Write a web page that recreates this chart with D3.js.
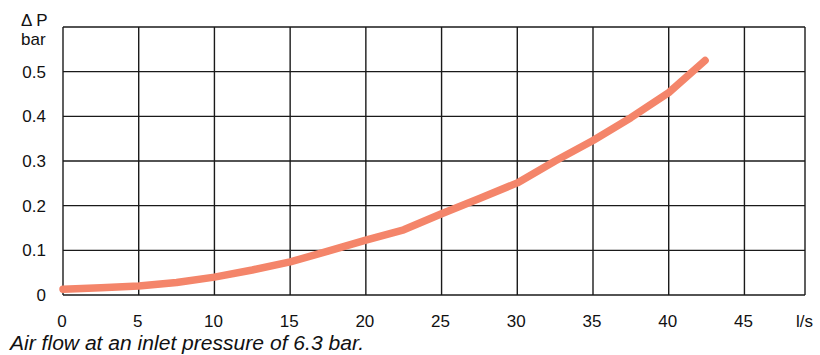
<!DOCTYPE html>
<html>
<head>
<meta charset="utf-8">
<script src="https://cdn.jsdelivr.net/npm/d3@7"></script>
<style>
  html, body { margin: 0; padding: 0; background: #fff; }
  svg { display: block; }
  text { font-family: "Liberation Sans", Arial, sans-serif; fill: #111; }
</style>
</head>
<body>
<svg id="chart" width="820" height="355"></svg>
<script>
// Data
const flow = [0, 2.5, 5, 7.5, 10, 12.5, 15, 17.5, 20, 22.5, 25, 27.5, 30, 32.5, 35, 37.5, 40, 42.4];
const deltaP = [0.013, 0.016, 0.020, 0.028, 0.040, 0.056, 0.074, 0.098, 0.123, 0.146, 0.182, 0.216, 0.251, 0.300, 0.346, 0.397, 0.453, 0.525];
const xTicks = [0, 5, 10, 15, 20, 25, 30, 35, 40, 45];
const yTicks = [0, 0.1, 0.2, 0.3, 0.4, 0.5];
const yLabels = ["0", "0.1", "0.2", "0.3", "0.4", "0.5"];
const xUnit = "l/s";
const yTitle = ["\u0394 P", "bar"];
const caption = "Air flow at an inlet pressure of 6.3 bar.";

const svg = d3.select("#chart");
const pL = 63, pR = 805, pT = 27, pB = 295;
const x = d3.scaleLinear().domain([0, 49]).range([pL, pR]);
const y = d3.scaleLinear().domain([0, 0.6]).range([pB, pT]);

const grid = svg.append("g");
grid.selectAll("line.v").data(xTicks).join("line")
  .attr("x1", d => x(d)).attr("x2", d => x(d))
  .attr("y1", pT).attr("y2", pB)
  .attr("stroke", "#1a1a1a").attr("stroke-width", 1.4);
grid.selectAll("line.h").data(yTicks.concat([0.6])).join("line")
  .attr("x1", pL).attr("x2", pR)
  .attr("y1", d => y(d)).attr("y2", d => y(d))
  .attr("stroke", "#1a1a1a").attr("stroke-width", 1.4);
grid.append("line")
  .attr("x1", pR).attr("x2", pR).attr("y1", pT).attr("y2", pB)
  .attr("stroke", "#1a1a1a").attr("stroke-width", 1.4);

svg.append("g").selectAll("text").data(yTicks).join("text")
  .attr("x", 46).attr("y", d => y(d)).attr("dy", "0.36em")
  .attr("text-anchor", "end").attr("font-size", 17)
  .text((d, i) => yLabels[i]);

svg.append("g").selectAll("text").data(xTicks).join("text")
  .attr("x", d => x(d) - 1).attr("y", 326.5)
  .attr("text-anchor", "middle").attr("font-size", 17)
  .text(d => d);

svg.append("text").attr("x", 796).attr("y", 326.5).attr("font-size", 17).text(xUnit);

svg.append("text").attr("x", 21).attr("y", 25.5).attr("font-size", 17).text(yTitle[0]);
svg.append("text").attr("x", 21).attr("y", 44.5).attr("font-size", 17).text(yTitle[1]);

svg.append("text").attr("x", 10).attr("y", 350).attr("font-size", 19.5)
  .attr("font-style", "italic")
  .attr("textLength", 354).attr("lengthAdjust", "spacingAndGlyphs")
  .text(caption);

const pts = flow.map((f, i) => [f, deltaP[i]]);
svg.append("path").datum(pts)
  .attr("fill", "none").attr("stroke", "#F4856A").attr("stroke-width", 7.5)
  .attr("stroke-linecap", "round").attr("stroke-linejoin", "round")
  .attr("d", d3.line().x(d => x(d[0])).y(d => y(d[1])));
</script>
</body>
</html>
